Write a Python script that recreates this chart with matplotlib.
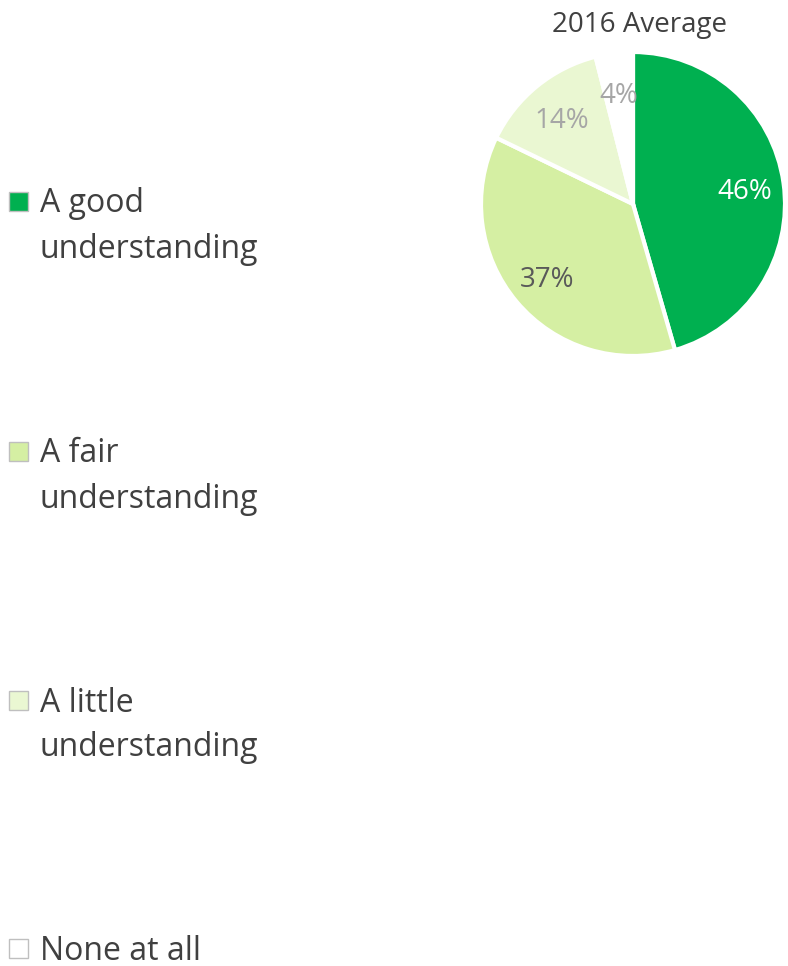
import matplotlib
matplotlib.use("Agg")
import matplotlib.pyplot as plt
from matplotlib.patches import Rectangle
from matplotlib.transforms import offset_copy

plt.rcParams['font.family'] = ['Open Sans', 'DejaVu Sans']

categories = ["A good understanding", "A fair understanding",
              "A little understanding", "None at all"]
legend_lines = [["A good", "understanding"], ["A fair", "understanding"],
                ["A little", "understanding"], ["None at all"]]
values = [46, 37, 14, 4]
colors = ["#00B050", "#D5EFA3", "#EAF7D2", "#FFFFFF"]
label_colors = ["#FFFFFF", "#595959", "#A6A6A6", "#A6A6A6"]
title = "2016 Average"

W, H = 788, 966
fig = plt.figure(figsize=(W / 100, H / 100), dpi=100)

# pie axes: center (633, 204) px from top-left, radius 152 px
cx, cy, r = 633, 204, 152
lim = 1.05
side = 2 * lim * r
ax = fig.add_axes([(cx - side / 2) / W, (H - cy - side / 2) / H, side / W, side / H])
wedges, _, autotexts = ax.pie(values, colors=colors, startangle=90, counterclock=False,
                              autopct="%d", pctdistance=0.74,
                              wedgeprops=dict(edgecolor="white", linewidth=3))
label_shift = offset_copy(ax.transData, fig=fig, x=0, y=-4, units="dots")
for t, v, c in zip(autotexts, values, label_colors):
    t.set_text(f"{v}%")
    t.set_color(c)
    t.set_fontsize(20)
    t.set_transform(label_shift)
ax.set_xlim(-lim, lim)
ax.set_ylim(-lim, lim)
ax.set_aspect("equal")
ax.axis("off")

fig.text(640 / W, 1 - 25 / H, title, ha="center", va="center",
         fontsize=20, color="#404040")

# legend drawn by hand
entry_y = [201, 451, 700, 948]
for lines, y, col in zip(legend_lines, entry_y, colors):
    fig.patches.append(Rectangle((9 / W, 1 - (y + 10) / H), 19 / W, 19 / H,
                                 transform=fig.transFigure, facecolor=col,
                                 edgecolor="#BFBFBF", linewidth=1))
    for i, line in enumerate(lines):
        fig.text(40 / W, 1 - (y + 3 + 45 * i) / H, line, ha="left", va="center",
                 fontsize=23, color="#404040")

fig.savefig("out.png", dpi=100)
